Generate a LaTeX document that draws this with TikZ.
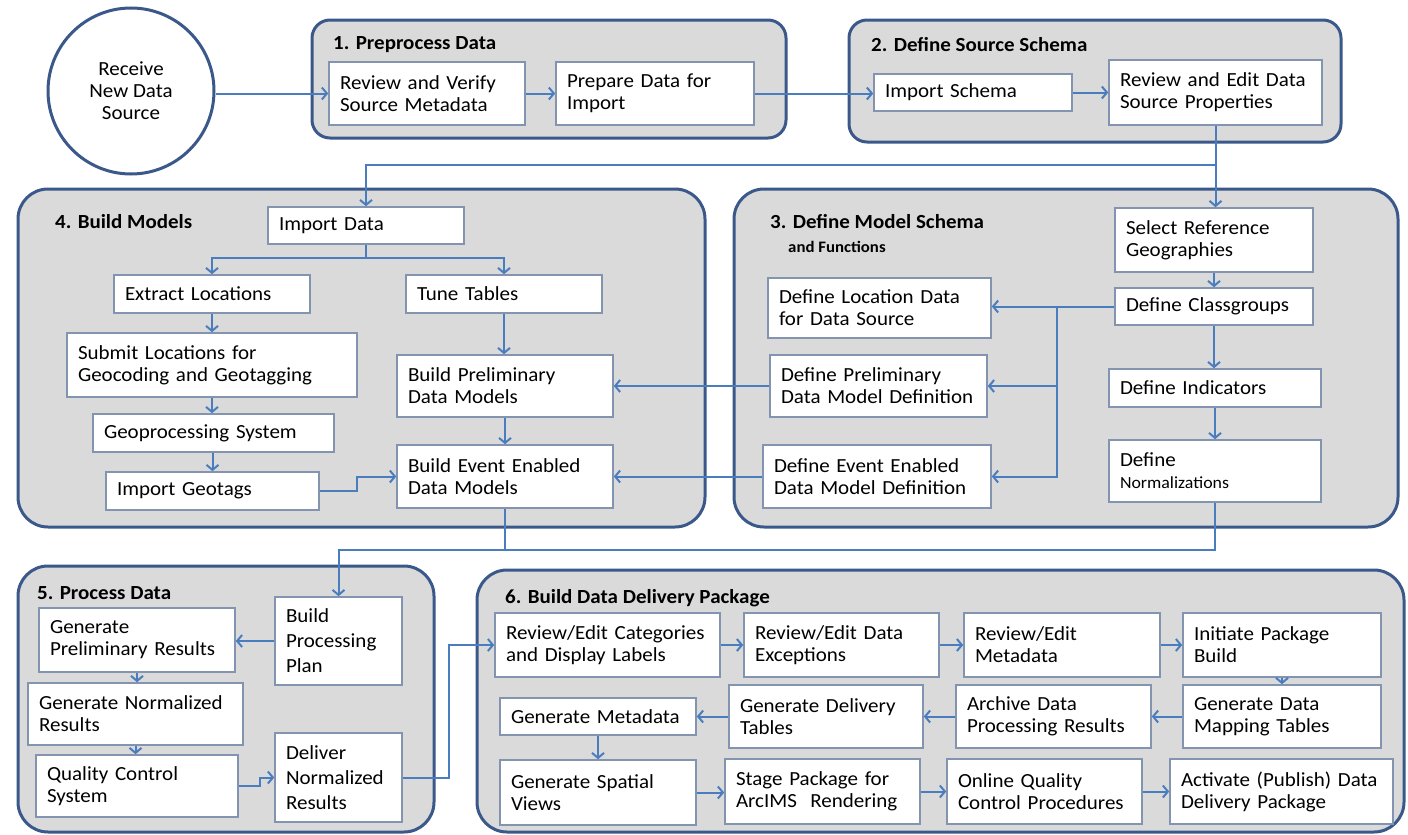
\documentclass[tikz,border=0pt]{standalone}
\usepackage{fontspec}
\setmainfont{Carlito}[FakeStretch=1.05]
\usetikzlibrary{arrows.meta,calc}
\definecolor{grpline}{RGB}{58,88,138}
\definecolor{grpfill}{RGB}{218,218,218}
\definecolor{boxline}{RGB}{130,148,176}
\definecolor{arrc}{RGB}{74,125,190}
\newcommand\mkbox[7][]{%
  \pgfmathsetmacro\bxw{#5-#3}\pgfmathsetmacro\bxh{#6-#4}%
  \pgfmathsetmacro\bxcx{(#3+#5)/2}\pgfmathsetmacro\bxcy{(#4+#6)/2}%
  \pgfmathsetmacro\bxtw{#5-#3-22}%
  \node[box,#1, minimum width=\bxw pt, minimum height=\bxh pt, text width=\bxtw pt] (#2) at (\bxcx,\bxcy) {#7};}
\newcommand\mkgrp[6]{%
  \pgfmathsetmacro\bxw{#4-#2}\pgfmathsetmacro\bxh{#5-#3}%
  \pgfmathsetmacro\bxcx{(#2+#4)/2}\pgfmathsetmacro\bxcy{(#3+#5)/2}%
  \node[grp, rounded corners=#6pt, minimum width=\bxw pt, minimum height=\bxh pt] (#1) at (\bxcx,\bxcy) {};}
\begin{document}
\begin{tikzpicture}[x=1pt,y=-1pt,
  font=\fontsize{20}{22}\selectfont,
  box/.style={draw=boxline, fill=white, line width=1.6pt, align=left, inner xsep=11pt, inner ysep=2pt},
  grp/.style={draw=grpline, fill=grpfill, line width=3pt, inner sep=0pt},
  ttl/.style={anchor=west, inner sep=0pt, font=\fontsize{20}{22}\selectfont\bfseries},
  arr/.style={draw=arrc, line width=2pt, -{Straight Barb[length=5pt,width=12pt]}},
  ln/.style={draw=arrc, line width=2pt}]
\useasboundingbox (0,0) rectangle (1408,835);
\fill[white] (0,0) rectangle (1408,835);
% groups
\mkgrp{g1}{312}{20}{786}{138}{18}
\mkgrp{g2}{849}{20}{1341}{142}{18}
\mkgrp{g4}{18}{189}{705}{527}{30}
\mkgrp{g3}{734}{189}{1398}{527}{30}
\mkgrp{g5}{18}{566}{434}{832}{30}
\mkgrp{g6}{477}{570}{1404}{832}{30}
% titles
\node[ttl] (t1) at (333,45) {1. Preprocess Data};
\node[ttl] (t2) at (871,45) {2. Define Source Schema};
\node[ttl] (t4) at (55,222) {4. Build Models};
\node[ttl] (t3) at (770,222) {3. Define Model Schema};
\node[ttl, font=\fontsize{16}{18}\selectfont\bfseries] (t3b) at (788,247) {and Functions};
\node[ttl] (t5) at (37,593) {5. Process Data};
\node[ttl] (t6) at (505,598) {6. Build Data Delivery Package};
% start
\node[circle, draw=grpline, fill=white, line width=3pt, minimum size=166pt, align=center, inner sep=0pt] (circ) at (131,91) {Receive\\New Data\\Source};
% boxes
\mkbox{rv}{329}{62}{525}{125}{Review and Verify\\Source Metadata}
\mkbox{prep}{556}{62}{754}{125}{Prepare Data for\\Import}
\mkbox{imps}{874}{74}{1072}{111}{Import Schema}
\mkbox{rve}{1109}{60}{1322}{125}{Review and Edit Data\\Source Properties}
\mkbox{imd}{268}{207}{464}{244}{Import Data}
\mkbox{ext}{114}{275}{310}{313}{Extract Locations}
\mkbox{tune}{406}{275}{602}{313}{Tune Tables}
\mkbox{sub}{67}{333}{357}{397}{Submit Locations for\\Geocoding and Geotagging}
\mkbox{geo}{93}{414}{334}{452}{Geoprocessing System}
\mkbox{igt}{106}{472}{319}{510}{Import Geotags}
\mkbox{bpre}{397}{355}{613}{417}{Build Preliminary\\Data Models}
\mkbox{bev}{397}{445}{613}{508}{Build Event Enabled\\Data Models}
\mkbox{sel}{1115}{208}{1313}{272}{Select Reference\\Geographies}
\mkbox{dcls}{1115}{288}{1313}{325}{Define Classgroups}
\mkbox{dind}{1109}{369}{1321}{407}{Define Indicators}
\mkbox{dnorm}{1109}{440}{1321}{502}{Define\\{\fontsize{17}{22}\selectfont Normalizations}}
\mkbox{dloc}{768}{278}{991}{338}{Define Location Data\\for Data Source}
\mkbox{dpre}{770}{355}{987}{417}{Define Preliminary\\Data Model Definition}
\mkbox{dev}{763}{445}{991}{508}{Define Event Enabled\\Data Model Definition}
\mkbox[font=\fontsize{20}{25}\selectfont]{bpp}{275}{597}{402}{685}{Build\\Processing\\Plan}
\mkbox{gpr}{39}{608}{235}{672}{Generate\\Preliminary Results}
\mkbox{gnr}{28}{683}{243}{745}{Generate Normalized\\Results}
\mkbox{qc}{36}{755}{238}{817}{Quality Control\\System}
\mkbox[font=\fontsize{20}{25}\selectfont]{dnr}{275}{733}{402}{822}{Deliver\\Normalized\\Results}
\mkbox{cat}{495}{613}{720}{677}{Review/Edit Categories\\and Display Labels}
\mkbox{exc}{744}{613}{939}{677}{Review/Edit Data\\Exceptions}
\mkbox{rmeta}{964}{613}{1160}{677}{Review/Edit\\Metadata}
\mkbox{init}{1183}{613}{1381}{677}{Initiate Package\\Build}
\mkbox{map}{1183}{685}{1381}{748}{Generate Data\\Mapping Tables}
\mkbox{arch}{956}{685}{1151}{748}{Archive Data\\Processing Results}
\mkbox{gdt}{729}{685}{923}{748}{Generate Delivery\\Tables}
\mkbox{gmeta}{500}{698}{696}{735}{Generate Metadata}
\mkbox{gsv}{500}{760}{696}{825}{Generate Spatial\\Views}
\mkbox{stage}{725}{759}{920}{824}{Stage Package for\\ArcIMS~~Rendering}
\mkbox{online}{947}{759}{1142}{824}{Online Quality\\Control Procedures}
\mkbox{act}{1170}{759}{1393}{824}{Activate (Publish) Data\\Delivery Package}
% connectors
\draw[arr] (rv.west -| circ.east) -- (rv.west);
\draw[arr] (rv) -- (prep);
\draw[arr] (prep.east) -- (prep.east -| imps.west);
\draw[arr] (imps) -- (rve);
\coordinate (j1) at (1215.5,165);
\draw[arr] (rve.south) -- (rve.south |- sel.north);
\draw[arr] (j1) -| (imd.north);
\coordinate (b1) at (366,258);
\draw[ln] (imd.south) -- (b1);
\draw[arr] (b1) -| (ext.north);
\draw[arr] (b1) -| (tune.north);
\draw[arr] (ext) -- (sub);
\draw[arr] (sub.south) -- (sub.south |- geo.north);
\draw[arr] (igt.north |- geo.south) -- (igt.north);
\draw[arr] (tune.south) -- (tune.south |- bpre.north);
\draw[arr] (bpre) -- (bev);
\draw[arr] (igt.east) -- ++(37,0) |- (bev.west);
\draw[arr] (dcls.west) -- (dcls.west -| dloc.east);
\coordinate (t1j) at (1057,306.5);
\draw[arr] (t1j) |- (dpre.east);
\draw[arr] (t1j) |- (dev.east);
\draw[arr] (dpre.west) -- (dpre.west -| bpre.east);
\draw[arr] (dev.west) -- (dev.west -| bev.east);
\draw[arr] (sel) -- (dcls);
\draw[arr] (dcls.south) -- (dcls.south |- dind.north);
\draw[arr] (dind) -- (dnorm);
\coordinate (j2) at (505,550);
\draw[ln] (bev.south) -- (j2);
\draw[ln] (dnorm.south) |- (j2);
\draw[arr] (j2) -| (bpp.north);
\draw[arr] (bpp.west) -- (bpp.west -| gpr.east);
\draw[arr] (gpr.south) -- (gpr.south |- gnr.north);
\draw[arr] (gnr.south) -- (gnr.south |- qc.north);
\draw[arr] (qc.east) -- ++(21,0) |- (dnr.west);
\draw[arr] (dnr.east) -- ++(46,0) |- (cat.west);
\draw[arr] (cat) -- (exc);
\draw[arr] (exc) -- (rmeta);
\draw[arr] (rmeta) -- (init);
\draw[arr] (init) -- (map);
\draw[arr] (map) -- (arch);
\draw[arr] (arch) -- (gdt);
\draw[arr] (gdt.west) -- (gdt.west -| gmeta.east);
\draw[arr] (gmeta.south) -- (gmeta.south |- gsv.north);
\draw[arr] (gsv.east) -- (gsv.east -| stage.west);
\draw[arr] (stage) -- (online);
\draw[arr] (online) -- (act);
\end{tikzpicture}
\end{document}
